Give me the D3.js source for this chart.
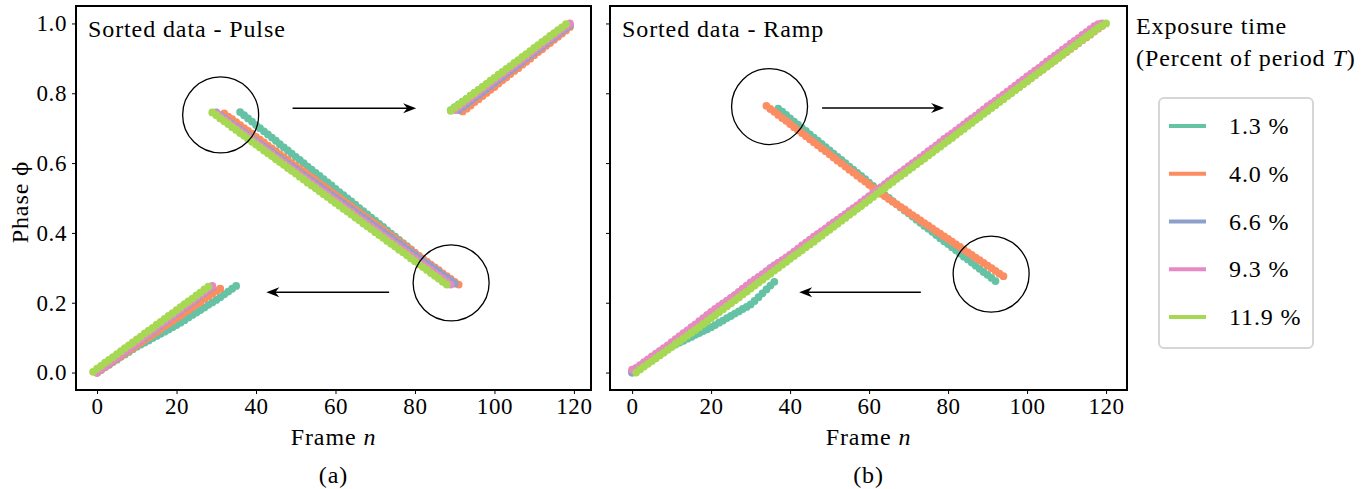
<!DOCTYPE html>
<html lang="en">
<head>
<meta charset="UTF-8">
<title>Sorted data - Pulse / Ramp</title>
<script src="https://d3js.org/d3.v7.min.js"></script>
<style>
  body { margin: 0; background: #fff; }
  svg text { font-family: "Liberation Serif", "DejaVu Serif", serif; fill: #000; }
  .tick text { font-size: 23px; letter-spacing: 0.6px; }
  .lbl { font-size: 24px; letter-spacing: 0.9px; }
</style>
</head>
<body>
<svg id="chart" width="1368" height="489"></svg>
<script>
// exposure times (legend) and Set2 colours
const labels = ["1.3 %", "4.0 %", "6.6 %", "9.3 %", "11.9 %"];
const colors = ["#66c2a5", "#fc8d62", "#8da0cb", "#e78ac3", "#a6d854"];
const xTicks = [0, 20, 40, 60, 80, 100, 120];
const yTicks = [0, 0.2, 0.4, 0.6, 0.8, 1.0];

// first frame of each series (the 11.9 % run is shifted by one frame)
const pulseStart = [0, 0, 0, 0, -1];
const rampStart = [0, 0, 0, 0, 1];

// sorted phase per frame - pulse
const pulse13 = [.000,.008,.015,.022,.030,.037,.045,.052,.059,.067,.074,.080,.086,.092,.099,.105,.111,.117,.123,.130,.136,.143,.150,.158,.165,.172,.179,.186,.194,.201,.208,.216,.224,.232,.240,.248,
  .746,.737,.728,.719,.709,.700,.691,.682,.673,.664,.654,.645,.636,.627,.618,.609,.600,.590,.581,.572,.563,.554,.545,.536,.526,.517,.508,.499,.490,.481,.471,.462,.453,.444,.435,.426,.417,.407,.398,.389,.380,.371,.362,.353,.343,.334,.325,.316,.307,.298,.289,.279,.270,
  .752,.760,.768,.776,.784,.793,.801,.809,.817,.825,.833,.841,.849,.857,.865,.874,.882,.890,.898,.906,.914,.922,.930,.938,.946,.955,.963,.971,.979,.987,.995];
const pulse40 = [.000,.007,.016,.023,.031,.039,.046,.055,.062,.070,.078,.085,.094,.101,.109,.117,.124,.133,.140,.148,.156,.163,.172,.179,.187,.195,.202,.211,.218,.226,.234,.240,
  .742,.733,.726,.717,.709,.700,.692,.684,.675,.667,.659,.650,.642,.634,.625,.617,.609,.600,.592,.584,.576,.567,.559,.551,.542,.534,.526,.517,.509,.501,.492,.484,.476,.467,.459,.451,.442,.434,.426,.418,.409,.401,.393,.384,.376,.368,.359,.351,.343,.334,.326,.318,.309,.301,.293,.284,.276,.268,.260,.252,
  .748,.756,.765,.775,.783,.792,.801,.810,.818,.828,.837,.845,.855,.864,.872,.882,.890,.899,.909,.918,.926,.936,.944,.953,.962,.971,.980,.990];
const pulse66 = [.000,.009,.017,.025,.034,.042,.051,.059,.068,.076,.085,.093,.101,.110,.118,.127,.135,.144,.152,.161,.169,.177,.186,.194,.203,.211,.220,.228,.237,.245,
  .745,.737,.729,.720,.712,.704,.696,.688,.680,.671,.663,.655,.647,.639,.631,.622,.614,.606,.598,.590,.582,.573,.565,.557,.549,.541,.533,.524,.516,.508,.500,.492,.484,.475,.467,.459,.451,.443,.435,.426,.418,.410,.402,.394,.386,.377,.369,.361,.353,.345,.337,.328,.320,.312,.304,.296,.288,.279,.271,.263,.255,
  .752,.761,.769,.778,.787,.795,.804,.813,.821,.830,.839,.847,.856,.865,.873,.882,.891,.900,.908,.917,.926,.934,.943,.952,.960,.969,.978,.986,.995];
const pulse93 = [.000,.010,.018,.027,.035,.044,.052,.061,.069,.078,.087,.095,.104,.112,.121,.129,.138,.146,.155,.163,.172,.180,.189,.197,.206,.214,.223,.231,.240,.248,
  .742,.734,.725,.717,.709,.700,.692,.684,.676,.667,.659,.651,.642,.634,.626,.617,.609,.601,.593,.584,.576,.568,.559,.551,.543,.534,.526,.518,.510,.501,.493,.485,.476,.468,.460,.451,.443,.435,.427,.418,.410,.402,.393,.385,.377,.368,.360,.352,.344,.335,.327,.319,.310,.302,.294,.285,.277,.269,.261,.252,
  .752,.761,.769,.778,.786,.795,.803,.812,.820,.829,.838,.846,.855,.863,.872,.880,.889,.897,.906,.914,.923,.932,.940,.949,.957,.966,.974,.983,.991,1.000];
const pulse119 = [.002,.011,.019,.028,.036,.044,.053,.061,.070,.078,.086,.095,.103,.112,.120,.128,.137,.145,.154,.162,.170,.179,.187,.196,.204,.212,.221,.229,.238,.246,
  .745,.737,.728,.720,.712,.703,.695,.686,.678,.670,.661,.653,.645,.636,.628,.620,.611,.603,.595,.586,.578,.570,.561,.553,.544,.536,.528,.519,.511,.503,.494,.486,.478,.469,.461,.453,.444,.436,.427,.419,.411,.402,.394,.386,.377,.369,.361,.352,.344,.336,.327,.319,.310,.302,.294,.285,.277,.269,.260,.252,
  .750,.759,.767,.776,.784,.793,.801,.810,.818,.827,.836,.844,.853,.861,.870,.878,.887,.895,.904,.912,.921,.930,.938,.947,.955,.964,.972,.981,.989,.998];

// sorted phase per frame - ramp
const ramp13 = [.000,.007,.015,.022,.030,.037,.045,.052,.060,.067,.075,.080,.086,.091,.097,.102,.108,.113,.119,.124,.130,.136,.143,.149,.156,.162,.169,.175,.182,.188,.195,.205,.216,.227,.238,.249,.260,
  .756,.747,.738,.728,.719,.710,.701,.692,.682,.673,.664,.655,.646,.636,.627,.618,.609,.600,.590,.581,.572,.563,.554,.544,.535,.526,.517,.508,.500,.491,.482,.473,.464,.456,.447,.438,.429,.420,.412,.403,.394,.385,.376,.368,.359,.350,.341,.332,.324,.315,.306,.297,.288,.280,.271,.262,
  .781,.789,.798,.806,.815,.823,.832,.840,.848,.857,.865,.874,.882,.891,.899,.907,.916,.924,.933,.941,.950,.958,.966,.975,.983,.992,.998];
const ramp40 = [.003,.009,.017,.025,.032,.040,.048,.056,.064,.072,.080,.088,.096,.104,.112,.120,.128,.136,.144,.152,.160,.168,.176,.184,.192,.200,.208,.216,.225,.233,.242,.251,.260,.269,
  .764,.755,.747,.738,.729,.721,.712,.703,.694,.686,.677,.668,.660,.651,.642,.634,.625,.616,.607,.599,.590,.581,.573,.564,.555,.547,.538,.529,.520,.512,.505,.497,.489,.482,.474,.467,.459,.451,.444,.436,.428,.421,.413,.405,.398,.390,.383,.375,.367,.360,.352,.344,.337,.329,.322,.314,.306,.299,.291,.283,.276,
  .794,.802,.810,.818,.827,.835,.843,.852,.860,.868,.877,.885,.893,.902,.910,.918,.927,.935,.943,.952,.960,.968,.977,.985,.993];
const ramp66 = [.000,.010,.018,.027,.035,.043,.051,.059,.067,.075,.084,.093,.102,.110,.119,.127,.136,.144,.153,.162,.170,.179,.187,.196,.204,.213,.221,.229,.238,.246,.254,.262,.271,.280,.290,.299,.307,.314,.320,.327,
  .335,.343,.351,.360,.368,.377,.385,.394,.402,.411,.419,.428,.436,.444,.452,.460,.468,.476,.485,.494,.503,.512,.521,.529,.538,.546,.555,.563,.572,.580,.589,.597,.605,.613,.622,.630,.639,.648,.657,.665,
  .673,.681,.690,.698,.707,.715,.724,.732,.740,.749,.757,.766,.774,.783,.791,.800,.808,.816,.825,.833,.842,.850,.859,.867,.875,.884,.892,.901,.909,.917,.926,.934,.942,.950,.958,.966,.975,.983,.991,.998];
const ramp93 = [.008,.013,.021,.030,.038,.046,.054,.062,.070,.078,.087,.096,.104,.113,.121,.130,.138,.147,.156,.165,.174,.182,.190,.198,.206,.214,.222,.231,.240,.249,.258,.266,.274,.282,.290,.298,.306,.314,.322,.330,
  .338,.346,.355,.364,.372,.381,.389,.397,.405,.413,.422,.430,.438,.446,.454,.463,.471,.479,.488,.497,.505,.514,.522,.531,.540,.549,.557,.566,.574,.583,.591,.600,.608,.616,.625,.634,.642,.651,.660,.669,
  .677,.685,.694,.702,.711,.720,.728,.736,.745,.754,.763,.771,.779,.788,.796,.805,.813,.822,.831,.839,.848,.856,.865,.873,.882,.891,.899,.908,.916,.925,.933,.942,.950,.958,.967,.975,.984,.992,.998,1.000];
const ramp119 = [.000,.009,.017,.025,.033,.041,.049,.057,.065,.073,.082,.090,.098,.106,.114,.122,.130,.139,.147,.156,.164,.173,.181,.190,.198,.207,.215,.224,.232,.241,.249,.258,.266,.275,.283,.292,.300,.309,.317,.326,
  .334,.342,.350,.359,.367,.375,.384,.392,.401,.409,.418,.426,.435,.443,.452,.460,.469,.477,.486,.494,.503,.512,.521,.529,.538,.546,.555,.563,.571,.580,.588,.597,.605,.613,.622,.630,.639,.647,.656,.664,
  .672,.681,.690,.698,.707,.715,.724,.732,.741,.749,.758,.766,.775,.783,.792,.800,.809,.817,.826,.834,.843,.851,.860,.868,.877,.885,.894,.902,.911,.919,.928,.936,.945,.953,.962,.970,.979,.987,.994,1.000];

// annotation circles [frame, phase] and arrows [from frame, to frame, phase]
const pulseCircles = [[31.1, 0.738], [89.1, 0.257]];
const pulseArrows = [[49.2, 80.3, 0.757], [73.5, 42.6, 0.230]];
const rampCircles = [[34.8, 0.762], [90.9, 0.282]];
const rampArrows = [[48.1, 79.0, 0.758], [73.1, 42.3, 0.230]];

const svg = d3.select("#chart");
const plotTop = 6, plotBottom = 390;
const y = d3.scaleLinear().domain([-0.05, 1.05]).range([plotBottom, plotTop]);

function drawPanel(opt) {
  const x = d3.scaleLinear().domain(opt.xDomain).range([opt.left, opt.right]);
  const g = svg.append("g");

  // dots (later series on top, like the original)
  opt.series.forEach((vals, si) => {
    const pts = vals.map((v, i) => [opt.start[si] + i, v]);
    g.append("g").selectAll("circle")
      .data(pts)
      .join("circle")
      .attr("cx", d => x(d[0]))
      .attr("cy", d => y(d[1]))
      .attr("r", 3.9)
      .attr("fill", colors[si]);
  });

  // circles + arrows
  opt.circles.forEach(c => {
    g.append("circle")
      .attr("cx", x(c[0])).attr("cy", y(c[1])).attr("r", 38)
      .attr("fill", "none").attr("stroke", "#000").attr("stroke-width", 1.3);
  });
  opt.arrows.forEach(a => {
    const x1 = x(a[0]), x2 = x(a[1]), yy = y(a[2]);
    const dir = x2 > x1 ? 1 : -1;
    g.append("line")
      .attr("x1", x1).attr("x2", x2 - dir * 8).attr("y1", yy).attr("y2", yy)
      .attr("stroke", "#000").attr("stroke-width", 1.6);
    g.append("path")
      .attr("d", `M${x2},${yy}L${x2 - dir * 13},${yy - 5}L${x2 - dir * 9},${yy}L${x2 - dir * 13},${yy + 5}Z`)
      .attr("fill", "#000");
  });

  // axes
  const ax = g.append("g").attr("transform", `translate(0,${plotBottom})`)
    .call(d3.axisBottom(x).tickValues(xTicks).tickSize(4).tickPadding(4));
  ax.select(".domain").remove();
  const ay = g.append("g").attr("transform", `translate(${opt.left},0)`)
    .call(d3.axisLeft(y).tickValues(yTicks).tickSize(4).tickPadding(5).tickFormat(d3.format(".1f")));
  ay.select(".domain").remove();
  if (!opt.yLabels) ay.selectAll("text").remove();
  svg.selectAll(".tick line").attr("stroke", "#000").attr("stroke-width", 1);

  g.append("rect")
    .attr("x", opt.left).attr("y", plotTop)
    .attr("width", opt.right - opt.left).attr("height", plotBottom - plotTop)
    .attr("fill", "none").attr("stroke", "#000").attr("stroke-width", 2);

  g.append("text").attr("class", "lbl").attr("x", opt.left + 12).attr("y", 37)
    .text(opt.title);

  const cx = (opt.left + opt.right) / 2;
  const xl = g.append("text").attr("class", "lbl").attr("x", cx).attr("y", 445)
    .attr("text-anchor", "middle");
  xl.append("tspan").text("Frame ");
  xl.append("tspan").attr("font-style", "italic").text("n");

  g.append("text").attr("class", "lbl").attr("x", cx).attr("y", 483)
    .attr("text-anchor", "middle").text(opt.sub);
}

drawPanel({
  left: 76, right: 591, xDomain: [-5.3, 124.3],
  series: [pulse13, pulse40, pulse66, pulse93, pulse119], start: pulseStart,
  circles: pulseCircles, arrows: pulseArrows,
  title: "Sorted data - Pulse", sub: "(a)", yLabels: true
});
drawPanel({
  left: 610, right: 1127, xDomain: [-5.6, 125.3],
  series: [ramp13, ramp40, ramp66, ramp93, ramp119], start: rampStart,
  circles: rampCircles, arrows: rampArrows,
  title: "Sorted data - Ramp", sub: "(b)", yLabels: false
});

// y label
const yl = svg.append("text").attr("class", "lbl")
  .attr("transform", `translate(28,${(plotTop + plotBottom) / 2 + 4}) rotate(-90)`)
  .attr("text-anchor", "middle");
yl.append("tspan").text("Phase ");
yl.append("tspan").attr("font-family", "DejaVu Serif").attr("font-size", 21).text("ϕ");

// legend
svg.append("text").attr("class", "lbl").attr("x", 1136).attr("y", 34).text("Exposure time");
const lt = svg.append("text").attr("class", "lbl").attr("x", 1136).attr("y", 66);
lt.append("tspan").text("(Percent of period ");
lt.append("tspan").attr("font-style", "italic").text("T");
lt.append("tspan").text(")");

const leg = svg.append("g");
leg.append("rect")
  .attr("x", 1159).attr("y", 98).attr("width", 154).attr("height", 250)
  .attr("rx", 5).attr("fill", "#fff").attr("stroke", "#d6d6d6").attr("stroke-width", 2);
const ly = d3.scalePoint().domain(labels).range([126, 317]);
labels.forEach((lab, i) => {
  leg.append("line")
    .attr("x1", 1169).attr("x2", 1206).attr("y1", ly(lab)).attr("y2", ly(lab))
    .attr("stroke", colors[i]).attr("stroke-width", 4);
  leg.append("text").attr("class", "lbl").attr("x", 1229).attr("y", ly(lab) + 8)
    .text(lab);
});
</script>
</body>
</html>
